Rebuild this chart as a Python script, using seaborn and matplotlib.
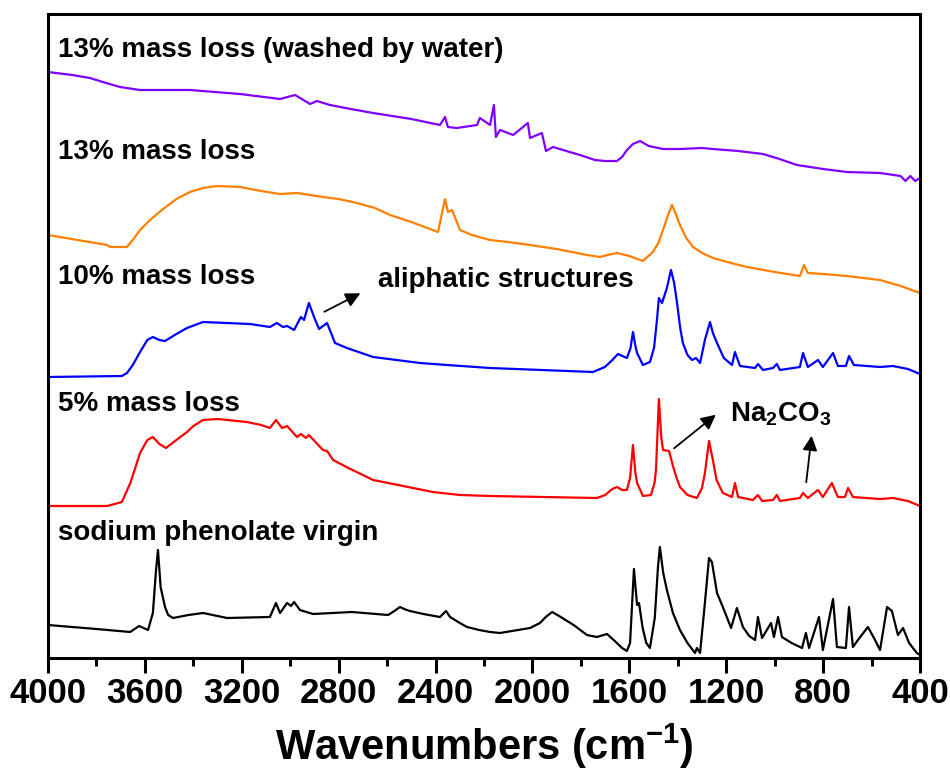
import matplotlib
matplotlib.use("Agg")
import matplotlib.pyplot as plt
import seaborn as sns
import pandas as pd
from matplotlib.ticker import MultipleLocator

virgin = [(4000, 33), (3800, 29), (3661, 26), (3624, 32), (3587, 28), (3567, 45), (3554, 88),
          (3546, 108), (3535, 71), (3517, 51), (3504, 43), (3484, 40), (3420, 43), (3360, 45),
          (3300, 42), (3261, 40), (3084, 41), (3059, 55), (3042, 45), (3013, 55), (2997, 52),
          (2984, 56), (2960, 48), (2906, 44), (2745, 46), (2596, 43), (2570, 47), (2547, 51),
          (2530, 49), (2506, 47), (2450, 44), (2382, 41), (2357, 47), (2340, 41), (2300, 35),
          (2270, 31), (2220, 28), (2175, 26), (2134, 25), (2010, 30), (1969, 35), (1945, 41),
          (1919, 46), (1890, 42), (1830, 33), (1775, 23), (1734, 21), (1692, 24), (1660, 17),
          (1630, 10), (1610, 7), (1597, 15), (1581, 89), (1568, 53), (1560, 55), (1545, 30),
          (1530, 15), (1515, 10), (1495, 40), (1482, 90), (1474, 111), (1460, 85), (1445, 68),
          (1420, 45), (1391, 28), (1360, 15), (1329, 5), (1321, 10), (1308, 5), (1290, 50),
          (1271, 100), (1259, 96), (1238, 65), (1214, 51), (1180, 30), (1156, 50), (1131, 31),
          (1105, 22), (1081, 18), (1069, 41), (1052, 20), (1015, 35), (1003, 21), (986, 41),
          (970, 21), (930, 15), (887, 10), (871, 25), (858, 10), (817, 41), (801, 8), (759, 59),
          (743, 11), (706, 10), (693, 51), (677, 11), (650, 20), (615, 31), (590, 20), (565, 8),
          (536, 51), (516, 47), (491, 23), (470, 30), (445, 15), (413, 5), (400, 3)]

loss_5 = [(4000, 152), (3756, 152), (3695, 156), (3660, 175), (3620, 205), (3590, 218), (3567, 221),
          (3540, 214), (3513, 210), (3470, 218), (3426, 226), (3400, 232), (3360, 238), (3300, 239),
          (3179, 236), (3120, 233), (3084, 230), (3059, 238), (3034, 230), (3013, 232), (2972, 221),
          (2956, 224), (2935, 220), (2923, 223), (2865, 208), (2848, 207), (2823, 198), (2760, 190),
          (2700, 183), (2658, 178), (2534, 172), (2411, 166), (2300, 163), (2175, 162), (1734, 160),
          (1700, 163), (1670, 169), (1651, 171), (1630, 168), (1610, 168), (1597, 180), (1585, 213),
          (1575, 185), (1568, 175), (1544, 162), (1511, 163), (1496, 175), (1490, 188), (1478, 259),
          (1468, 220), (1461, 208), (1436, 207), (1420, 192), (1405, 180), (1391, 171), (1360, 163),
          (1321, 160), (1300, 170), (1288, 185), (1271, 217), (1255, 198), (1240, 178), (1214, 165),
          (1176, 161), (1164, 175), (1151, 161), (1090, 158), (1069, 163), (1052, 157), (1007, 158),
          (991, 163), (978, 157), (896, 160), (883, 165), (863, 160), (821, 168), (801, 161),
          (764, 175), (739, 161), (710, 161), (697, 170), (677, 161), (565, 159), (512, 160),
          (450, 157), (400, 152)]

loss_10 = [(4000, 281), (3695, 282), (3674, 285), (3650, 293), (3620, 306), (3590, 318), (3567, 321),
           (3540, 318), (3517, 317), (3470, 324), (3426, 330), (3360, 336), (3166, 334), (3084, 331),
           (3055, 335), (3030, 331), (3013, 332), (2984, 328), (2956, 341), (2943, 338), (2923, 355),
           (2900, 340), (2881, 329), (2848, 335), (2815, 315), (2766, 310), (2658, 301), (2464, 295),
           (2353, 293), (2175, 290), (1750, 286), (1701, 291), (1670, 298), (1647, 304), (1610, 300),
           (1595, 310), (1585, 326), (1575, 312), (1568, 305), (1544, 293), (1515, 296), (1498, 310),
           (1486, 338), (1478, 360), (1465, 355), (1445, 370), (1428, 388), (1415, 375), (1403, 355),
           (1390, 330), (1379, 315), (1360, 303), (1341, 298), (1325, 300), (1308, 295), (1288, 318),
           (1267, 336), (1255, 325), (1238, 315), (1210, 300), (1176, 293), (1164, 306), (1143, 292),
           (1081, 290), (1069, 294), (1048, 288), (1007, 290), (991, 294), (978, 288), (896, 291),
           (883, 305), (863, 291), (821, 298), (801, 291), (759, 305), (739, 292), (706, 292),
           (693, 302), (673, 293), (565, 291), (512, 292), (450, 289), (400, 284)]

loss_13 = [(4000, 423), (3756, 413), (3744, 411), (3674, 411), (3650, 418), (3620, 428), (3579, 438),
           (3530, 448), (3470, 459), (3414, 466), (3360, 470), (3302, 472), (3207, 471), (3120, 467),
           (3042, 464), (2972, 465), (2865, 461), (2800, 459), (2724, 455), (2650, 450), (2588, 443),
           (2500, 436), (2423, 429), (2390, 426), (2361, 459), (2349, 446), (2332, 448), (2299, 428),
           (2250, 423), (2175, 418), (2100, 416), (2010, 413), (1900, 409), (1775, 403), (1721, 401),
           (1690, 403), (1651, 405), (1600, 402), (1544, 397), (1503, 406), (1480, 415), (1461, 428),
           (1440, 443), (1424, 453), (1410, 445), (1391, 433), (1365, 420), (1337, 411), (1300, 405),
           (1255, 400), (1180, 395), (1114, 391), (1000, 386), (896, 382), (879, 393), (863, 385),
           (800, 384), (702, 382), (565, 378), (480, 372), (400, 365)]

loss_13_washed = [(4000, 586), (3900, 583), (3827, 580), (3760, 575), (3703, 571), (3620, 568),
                  (3414, 568), (3207, 564), (3042, 559), (2980, 563), (2918, 554), (2890, 557),
                  (2836, 553), (2750, 549), (2658, 545), (2500, 539), (2382, 533), (2361, 541),
                  (2349, 531), (2312, 530), (2229, 533), (2217, 540), (2175, 533), (2159, 553),
                  (2151, 521), (2134, 528), (2080, 523), (2039, 531), (2019, 535), (2010, 520),
                  (1961, 525), (1944, 507), (1915, 511), (1860, 507), (1804, 503), (1742, 498),
                  (1700, 497), (1651, 497), (1630, 501), (1610, 508), (1585, 514), (1556, 517),
                  (1520, 512), (1461, 509), (1391, 509), (1300, 510), (1255, 509), (1150, 507),
                  (1048, 504), (980, 499), (908, 493), (800, 489), (702, 486), (565, 485),
                  (480, 482), (460, 477), (440, 482), (420, 477), (400, 480)]

samples = ["sodium phenolate virgin", "5% mass loss", "10% mass loss",
           "13% mass loss", "13% mass loss (washed by water)"]
spectra = [virgin, loss_5, loss_10, loss_13, loss_13_washed]
colors = ["#000000", "#FF0000", "#0000FF", "#FF8000", "#8000FF"]
label_y = [125, 254, 381, 506, 608]

xticks = [4000, 3600, 3200, 2800, 2400, 2000, 1600, 1200, 800, 400]


def build_df():
    rows = []
    for name, spec in zip(samples, spectra):
        for wn, ab in spec:
            rows.append({"wavenumber": wn, "absorbance": ab, "sample": name})
    return pd.DataFrame(rows)


def plot_ftir(df):
    fig = plt.figure(figsize=(9.5, 7.71), dpi=100)
    ax = fig.add_axes([48 / 950, 1 - 658 / 771, 872 / 950, 644 / 771])

    sns.lineplot(data=df, x="wavenumber", y="absorbance", hue="sample",
                 palette=dict(zip(samples, colors)), estimator=None,
                 linewidth=1.6, legend=False, ax=ax)

    # etiquetas de cada espectro
    for name, y in zip(samples, label_y):
        ax.text(3960, y, name, fontsize=20, fontweight="bold", va="center", ha="left")

    ax.text(2638, 378, "aliphatic structures", fontsize=20, fontweight="bold", va="center")
    ax.text(1185, 244, "Na$_2$CO$_3$", fontsize=20, fontweight="bold", va="center")

    arrow = dict(arrowstyle="-|>", color="black", lw=1.3, mutation_scale=22)
    ax.annotate("", xy=(2700, 366), xytext=(2869, 345), arrowprops=arrow)
    ax.annotate("", xy=(1234, 245), xytext=(1424, 208), arrowprops=arrow)
    ax.annotate("", xy=(846, 225), xytext=(871, 173), arrowprops=arrow)

    ax.set_xlim(4000, 400)
    ax.set_ylim(0, 644)
    ax.set_xticks(xticks)
    ax.set_xticklabels([str(t) for t in xticks], fontweight="bold")
    ax.xaxis.set_minor_locator(MultipleLocator(200))
    ax.set_yticks([])
    ax.set_ylabel("")
    ax.tick_params(axis="x", which="major", length=11, width=2.2, labelsize=25, pad=3)
    ax.tick_params(axis="x", which="minor", length=6, width=2.2)
    for sp in ax.spines.values():
        sp.set_visible(True)
        sp.set_linewidth(2.2)
        sp.set_color("black")
    ax.set_xlabel("Wavenumbers (cm$^{-1}$)", fontsize=30, fontweight="bold", labelpad=8)

    fig.savefig("out.png", dpi=100, facecolor="white")
    plt.close(fig)


if __name__ == "__main__":
    sns.set_theme(style="ticks")
    plt.rcParams["font.family"] = ["Liberation Sans", "DejaVu Sans"]
    plt.rcParams["text.color"] = "black"
    plt.rcParams["axes.labelcolor"] = "black"
    plt.rcParams["xtick.color"] = "black"
    plt.rcParams["mathtext.fontset"] = "custom"
    plt.rcParams["mathtext.rm"] = "Liberation Sans:bold"
    plt.rcParams["mathtext.default"] = "rm"
    plot_ftir(build_df())
